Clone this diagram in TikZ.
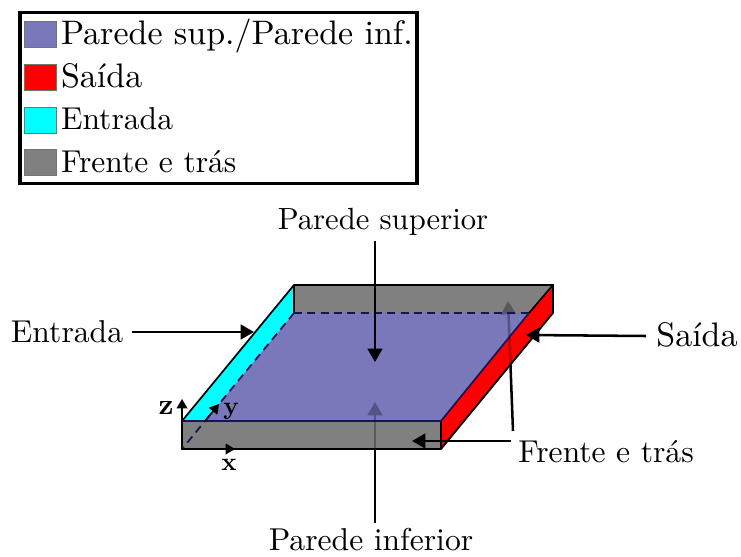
\documentclass[tikz,border=0pt]{standalone}
\usetikzlibrary{arrows.meta}
\definecolor{plateblue}{HTML}{7878BB}
\definecolor{facegray}{HTML}{808080}
\definecolor{purecyan}{HTML}{00FFFF}
\definecolor{navyline}{HTML}{14145A}
\font\reffont="[lmroman10-regular.otf]" at 23.7pt
\font\bigfont="[lmroman10-regular.otf]" at 25.5pt
\font\supfont="[lmroman10-regular.otf]" at 23pt
\font\axfont="[lmroman10-bold.otf]" at 19pt
\font\zfont="[lmroman10-bold.otf]" at 22pt
\tikzset{
  lbl/.style={font=\reffont,inner sep=0pt,outer sep=0pt,text=black,anchor=base},
  leglbl/.style={lbl,anchor=base west},
  axlbl/.style={font=\axfont,inner sep=0pt,anchor=base},
  swatch/.style={draw=black!55,line width=0.6pt,minimum width=24pt,minimum height=20pt,inner sep=0pt,outer sep=0pt,anchor=north west},
  callout/.style={line width=1.9pt,-{Triangle[length=10pt,width=11pt]}},
  axisarrow/.style={line width=1.2pt,-{Triangle[length=7pt,width=8pt]}},
  edge/.style={line width=1.3pt,black},
  navyedge/.style={line width=1.3pt,draw=navyline},
}
\begin{document}
\begin{tikzpicture}[x=0.75pt,y=-0.75pt]
\useasboundingbox (0,0) rectangle (741,556);
% legend
\node[draw=black,line width=2.8pt,outer sep=0pt,minimum width=297.75pt,minimum height=128.25pt,inner sep=0pt,anchor=north west] (legend) at (20,12.5) {};
\node[swatch,fill=plateblue] (s1) at (24,21) {};
\node[swatch,fill=red] (s2) at (24,64) {};
\node[swatch,fill=purecyan] (s3) at (24,107) {};
\node[swatch,fill=facegray] (s4) at (24,149) {};
\node[leglbl,font=\bigfont] (t1) at (61,45) {Parede sup./Parede inf.};
\node[leglbl,font=\bigfont] (t2) at (61,88) {Saída};
\node[leglbl] (t3) at (61,130) {Entrada};
\node[leglbl] (t4) at (61,172) {Frente e trás};
% plate corners
\coordinate (fbl) at (182,449);
\coordinate (fbr) at (441,449);
\coordinate (ftl) at (182,421);
\coordinate (ftr) at (441,421);
\coordinate (btl) at (294,285);
\coordinate (btr) at (553,285);
\coordinate (bbl) at (294,313);
\coordinate (bbr) at (553,313);
\coordinate (inl) at (205,421);
\coordinate (inr) at (529,313);
% opaque faces
\fill[facegray] (btl) -- (btr) -- (inr) -- (bbl) -- cycle;
\fill[plateblue] (bbl) -- (inr) -- (ftr) -- (inl) -- cycle;
\fill[facegray] (ftl) -- (ftr) -- (fbr) -- (fbl) -- cycle;
\fill[red] (ftr) -- (btr) -- (bbr) -- (fbr) -- cycle;
\fill[purecyan] (ftl) -- (btl) -- (bbl) -- (inl) -- cycle;
% labels and arrows seen through the plate
\node[lbl] (inf) at (371,550.5) {Parede inferior};
\node[lbl] (ft) at (606,462) {Frente e trás};
\coordinate (infstart) at (375,523);
\coordinate (inftip) at (375,402);
\coordinate (backstart) at (513,431);
\coordinate (backtip) at (508,301);
\draw[callout] (infstart) -- (inftip);
\draw[callout] (backstart) -- (backtip);
% translucent faces over those arrows
\fill[facegray,fill opacity=.7] (btl) -- (btr) -- (inr) -- (bbl) -- cycle;
\fill[plateblue,fill opacity=.7] (bbl) -- (inr) -- (ftr) -- (inl) -- cycle;
\fill[facegray,fill opacity=.7] (ftl) -- (ftr) -- (fbr) -- (fbl) -- cycle;
\fill[red,fill opacity=.7] (ftr) -- (btr) -- (bbr) -- (fbr) -- cycle;
% edges
\draw[edge] (ftl) -- (btl) -- (btr) -- (bbr) -- (fbr) -- (fbl) -- cycle;
\draw[edge] (btl) -- (bbl);
\draw[edge] (btr) -- (inr);
\draw[navyedge] (inr) -- (ftr);
\draw[edge,line width=0.8pt] (ftr) -- (fbr);
\draw[navyedge] (ftl) -- (ftr);
\draw[navyedge,dash pattern=on 6pt off 4pt] (bbl) -- (inr);
\draw[navyedge,dash pattern=on 6pt off 4pt] (bbl) -- (fbl);
% axes
\coordinate (ztip) at (182,399);
\coordinate (xtip) at (235,449);
\coordinate (ytip) at (219,404);
\draw[axisarrow] (ftl) -- (ztip);
\draw[axisarrow] (fbl) -- (xtip);
\draw[axisarrow] (inl) -- (ytip);
\node[font=\zfont,inner sep=0pt,anchor=base] (zl) at (166,414) {z};
\node[axlbl] (yl) at (231,414) {y};
\node[axlbl] (xl) at (229,470) {x};
% callouts
\node[lbl,font=\supfont] (sup) at (383,229) {Parede superior};
\node[lbl] (ent) at (67,342) {Entrada};
\node[lbl,font=\bigfont] (sai) at (697,346) {Saída};
\coordinate (suptip) at (375,362);
\coordinate (enttip) at (254,332);
\coordinate (saitip) at (526,335);
\coordinate (fronttip) at (412,441);
\draw[callout] (375,241) -- (suptip);
\draw[callout] (132,332) -- (enttip);
\draw[callout] (646,336) -- (saitip);
\draw[callout] (511,441) -- (fronttip);
\end{tikzpicture}
\end{document}
